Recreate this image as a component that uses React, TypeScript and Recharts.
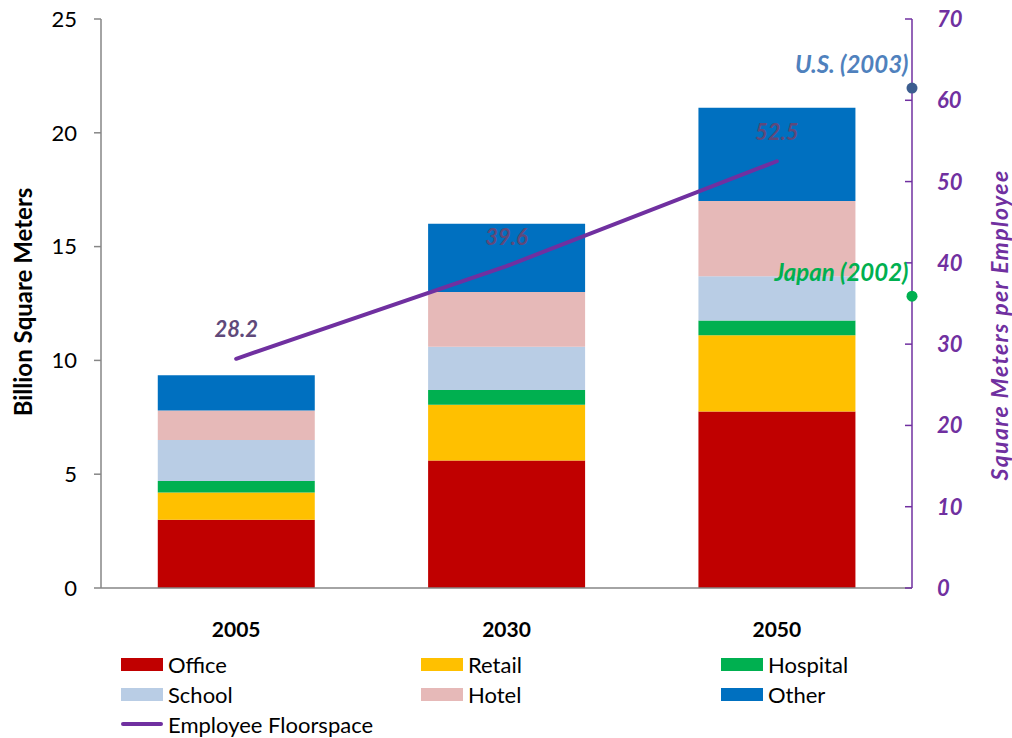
import {
  Bar,
  ComposedChart,
  LabelList,
  Line,
  Scatter,
  XAxis,
  YAxis,
} from 'recharts'

const years = ['2005', '2030', '2050']
const office = [3.0, 5.6, 7.75]
const retail = [1.2, 2.45, 3.35]
const hospital = [0.5, 0.65, 0.65]
const school = [1.8, 1.9, 1.95]
const hotel = [1.3, 2.4, 3.3]
const other = [1.55, 3.0, 4.1]
const floorspace = [28.2, 39.6, 52.5]

const leftTicks = [0, 5, 10, 15, 20, 25]
const rightTicks = [0, 10, 20, 30, 40, 50, 60, 70]

const usPoint = [{ x: 1, y: 61.5, name: 'U.S. (2003)' }]
const japanPoint = [{ x: 1, y: 35.9, name: 'Japan (2002)' }]

const FONT = 'Lato, "Open Sans", sans-serif'
const PURPLE = '#7030A0'

const series = [
  { key: 'office', name: 'Office', color: '#C00000', values: office },
  { key: 'retail', name: 'Retail', color: '#FFC000', values: retail },
  { key: 'hospital', name: 'Hospital', color: '#00B050', values: hospital },
  { key: 'school', name: 'School', color: '#B9CDE5', values: school },
  { key: 'hotel', name: 'Hotel', color: '#E6B9B8', values: hotel },
  { key: 'other', name: 'Other', color: '#0070C0', values: other },
]

const data = years.map((year, i) => {
  const row: Record<string, string | number> = { year, floor: floorspace[i] }
  series.forEach((s) => {
    row[s.key] = s.values[i]
  })
  return row
})

function RightTick(props: any) {
  const { x, y, payload } = props
  return (
    <g>
      <line x1={x - 32} x2={x - 25} y1={y} y2={y} stroke={PURPLE} strokeWidth={1.5} />
      <text
        x={x}
        y={y}
        dy={8}
        textAnchor="start"
        fill={PURPLE}
        fontSize={22}
        fontWeight={700}
        fontStyle="italic"
        fontFamily={FONT}
      >
        {payload.value}
      </text>
    </g>
  )
}

function LeftTitle() {
  return (
    <text
      x={22}
      y={302}
      transform="rotate(-90, 22, 302)"
      textAnchor="middle"
      dominantBaseline="central"
      fontSize={24}
      fontWeight={700}
      fontFamily={FONT}
      fill="#000"
    >
      Billion Square Meters
    </text>
  )
}

function RightTitle() {
  return (
    <text
      x={999}
      y={325}
      transform="rotate(-90, 999, 325)"
      textAnchor="middle"
      dominantBaseline="central"
      fontSize={23}
      letterSpacing={1.4}
      fontWeight={700}
      fontStyle="italic"
      fontFamily={FONT}
      fill={PURPLE}
    >
      Square Meters per Employee
    </text>
  )
}

function pointLabel(color: string) {
  return (props: any) => {
    const { x, y, value } = props
    return (
      <text
        x={x + 1}
        y={y - 20}
        textAnchor="end"
        dominantBaseline="central"
        fill={color}
        fontSize={24}
        fontWeight={700}
        fontStyle="italic"
        fontFamily={FONT}
      >
        {value}
      </text>
    )
  }
}

function FloorLabel(props: any) {
  const { x, y, value } = props
  return (
    <text
      x={x}
      y={y - 30}
      textAnchor="middle"
      dominantBaseline="central"
      fill="#5F497A"
      fontSize={22}
      fontWeight={700}
      fontStyle="italic"
      fontFamily={FONT}
    >
      {value}
    </text>
  )
}

const legendRows = [
  [series[0], series[1], series[2]],
  [series[3], series[4], series[5]],
]

export default function App() {
  return (
    <div
      style={{
        position: 'absolute',
        left: 0,
        top: 0,
        width: 1012,
        height: 738,
        background: '#fff',
        fontFamily: FONT,
      }}
    >
      <ComposedChart
        width={1012}
        height={738}
        data={data}
        margin={{ top: 19, right: 0, bottom: 100, left: 0 }}
        barCategoryGap="21%"
      >
        <XAxis
          dataKey="year"
          tickLine={false}
          tickSize={0}
          tickMargin={34}
          axisLine={{ stroke: '#868686', strokeWidth: 1.5 }}
          tick={{ fill: '#000', fontSize: 21, fontWeight: 700, fontFamily: FONT }}
          height={50}
        />
        <XAxis xAxisId="pt" type="number" dataKey="x" domain={[0, 1]} hide />
        <YAxis
          yAxisId="left"
          width={101}
          domain={[0, 25]}
          ticks={leftTicks}
          tickSize={7}
          tickMargin={17}
          axisLine={{ stroke: '#868686', strokeWidth: 1.5 }}
          tickLine={{ stroke: '#868686', strokeWidth: 1.5 }}
          tick={{ fill: '#000', fontSize: 22, fontFamily: FONT }}
          label={<LeftTitle />}
        />
        <YAxis
          yAxisId="right"
          orientation="right"
          width={100}
          domain={[0, 70]}
          ticks={rightTicks}
          tickSize={0}
          tickMargin={25}
          tickLine={false}
          axisLine={{ stroke: PURPLE, strokeWidth: 1.5 }}
          tick={<RightTick />}
          label={<RightTitle />}
        />
        {series.map((s) => (
          <Bar
            key={s.key}
            yAxisId="left"
            dataKey={s.key}
            name={s.name}
            stackId="a"
            fill={s.color}
            isAnimationActive={false}
          />
        ))}
        <Line
          yAxisId="right"
          dataKey="floor"
          stroke={PURPLE}
          strokeWidth={4}
          strokeLinecap="round"
          dot={false}
          activeDot={false}
          isAnimationActive={false}
        >
          <LabelList dataKey="floor" content={<FloorLabel />} />
        </Line>
        <Scatter
          xAxisId="pt"
          yAxisId="right"
          data={usPoint}
          dataKey="y"
          fill="#3C5D8F"
          shape={(p: any) => <circle cx={p.cx} cy={p.cy} r={5.5} fill="#3C5D8F" />}
          isAnimationActive={false}
        >
          <LabelList dataKey="name" content={pointLabel('#4F81BD')} />
        </Scatter>
        <Scatter
          xAxisId="pt"
          yAxisId="right"
          data={japanPoint}
          dataKey="y"
          fill="#00B050"
          shape={(p: any) => <circle cx={p.cx} cy={p.cy} r={5.5} fill="#00B050" />}
          isAnimationActive={false}
        >
          <LabelList dataKey="name" content={pointLabel('#00B050')} />
        </Scatter>
      </ComposedChart>

      <div style={{ position: 'absolute', left: 121, top: 649, fontSize: 22, color: '#000' }}>
        {legendRows.map((row, r) => (
          <div key={r} style={{ display: 'flex', height: 30, alignItems: 'center' }}>
            {row.map((s) => (
              <div key={s.key} style={{ width: 300, display: 'flex', alignItems: 'center' }}>
                <span
                  style={{ width: 42, height: 13, background: s.color, marginRight: 5, display: 'inline-block' }}
                />
                <span>{s.name}</span>
              </div>
            ))}
          </div>
        ))}
        <div style={{ display: 'flex', height: 30, alignItems: 'center' }}>
          <span
            style={{
              width: 42,
              height: 4,
              background: PURPLE,
              borderRadius: 2,
              marginRight: 5,
              display: 'inline-block',
            }}
          />
          <span>Employee Floorspace</span>
        </div>
      </div>
    </div>
  )
}
